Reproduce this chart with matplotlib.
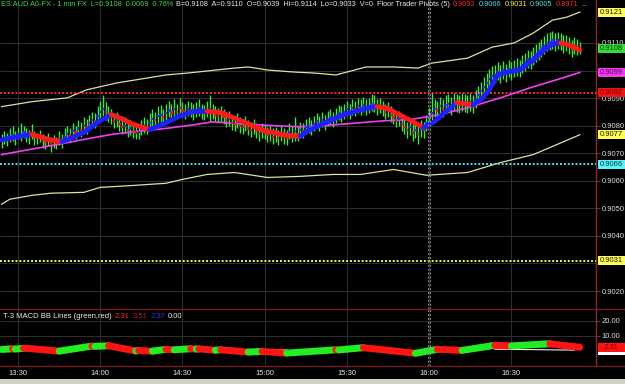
import numpy as np
import matplotlib
matplotlib.use("Agg")
import matplotlib.pyplot as plt
from matplotlib.collections import LineCollection
from matplotlib.patches import Rectangle
from matplotlib.lines import Line2D
from matplotlib.transforms import blended_transform_factory, ScaledTranslation

plt.rcParams['font.family'] = ['Liberation Sans', 'DejaVu Sans']

# ---------------- data ----------------
symbol_text = "ES:AUD A0-FX - 1 min FX  L=0.9108  0.0069  0.76%"
quote_text = "B=0.9108  A=0.9110  O=0.9039  Hi=0.9114  Lo=0.9033  V=0  Floor Trader Pivots (5)"
pivot_values = [0.9092, 0.9066, 0.9031, 0.9005, 0.8971]
pivot_colors = ['#ff2a2a', '#48e0f0', '#f6f24a', '#48e0f0', '#ff2a2a']

start_clock = "13:24"
time_labels = ["13:30", "14:00", "14:30", "15:00", "15:30", "16:00", "16:30"]
session_break = "16:00"

price_base = 0.9  # series below are in pips above 0.9000
bar_close = [74.5, 75.5, 75.0, 76.0, 76.5, 75.8, 77.0, 76.5, 77.5, 77.0,
             76.5, 77.2, 76.0, 75.5, 76.2, 74.8, 74.0, 75.0, 73.5, 74.2,
             73.8, 75.0, 74.5, 76.0, 77.0, 76.5, 78.0, 77.5, 79.0, 78.5,
             80.0, 79.5, 81.0, 82.0, 81.5, 83.5, 85.0, 86.0, 85.0, 84.0,
             83.0, 81.5, 82.0, 80.5, 79.5, 80.0, 78.5, 79.0, 78.0, 77.5,
             77.8, 79.0, 80.0, 79.5, 81.0, 82.5, 82.0, 83.5, 84.0, 83.0,
             84.5, 85.5, 84.8, 86.0, 85.0, 86.5, 85.5, 85.0, 86.0, 85.5,
             84.8, 85.5, 86.2, 85.0, 84.5, 85.8, 86.0, 85.0, 84.0, 83.5,
             84.2, 83.0, 82.0, 82.5, 81.0, 80.5, 81.5, 80.0, 79.5, 80.5,
             79.0, 78.5, 79.5, 78.0, 77.0, 78.0, 77.5, 76.5, 77.0, 76.0,
             76.5, 75.5, 77.0, 76.0, 75.5, 77.5, 76.5, 78.0, 77.0, 78.5,
             78.0, 79.5, 80.0, 79.0, 80.5, 81.5, 80.5, 82.0, 81.0, 82.5,
             83.0, 82.0, 83.5, 84.5, 84.0, 85.0, 86.0, 85.0, 86.5, 86.0,
             87.0, 86.5, 87.5, 86.5, 87.0, 88.0, 87.5, 86.5, 87.0, 86.0,
             85.0, 85.5, 84.0, 83.0, 82.0, 82.5, 80.5, 79.5, 78.5, 79.5,
             77.5, 78.5, 77.0, 79.0, 78.5, 81.0, 83.0, 84.5, 86.0, 85.5,
             87.0, 86.0, 87.5, 88.0, 87.0, 88.5, 88.0, 87.5, 88.5, 88.0,
             87.5, 88.5, 87.5, 89.5, 91.0, 92.5, 94.0, 95.5, 97.0, 98.0,
             98.5, 99.5, 98.5, 100.0, 99.0, 100.5, 99.5, 100.5, 101.0, 100.5,
             102.0, 103.0, 104.0, 103.5, 105.0, 106.0, 107.0, 108.0, 109.0, 110.0,
             110.5, 111.0, 110.0, 111.0, 110.5, 109.5, 110.0, 109.0, 108.0, 109.0, 108.5, 108.0]
bar_high = [77, 78, 77.5, 79, 80, 78, 79.5, 81, 80, 79,
            78.5, 80.5, 78, 77.5, 78.5, 77, 76, 77.5, 76, 76.5,
            76, 78, 77, 79, 80, 79, 81, 80, 82, 81.5,
            83, 82.5, 84, 85, 84.5, 87, 89, 91, 88.5, 87,
            86, 84.5, 85, 83.5, 82.5, 83, 81.5, 82, 81, 80.5,
            80.5, 82, 83, 82.5, 84.5, 86, 85, 87, 87.5, 86,
            88, 89, 88, 89.5, 88, 90, 88.5, 88, 89, 88.5,
            88, 88.5, 89.5, 88, 87.5, 89, 91, 88, 87, 86.5,
            87, 86, 85, 85.5, 84, 83.5, 84.5, 83, 82.5, 83.5,
            82, 81.5, 82.5, 81, 80, 81, 80.5, 79.5, 80, 79,
            79.5, 78.5, 80, 79, 78.5, 81, 80, 83, 80, 81.5,
            81, 82.5, 83, 82, 83.5, 84.5, 83.5, 85, 84, 85.5,
            86, 85, 86.5, 87.5, 87, 88, 89, 88, 89.5, 89,
            90, 89.5, 90.5, 89.5, 90, 91.5, 91, 89.5, 90, 89,
            88, 88.5, 87, 86, 85, 85.5, 83.5, 82.5, 81.5, 82.5,
            80.5, 81.5, 80, 82, 81.5, 84, 86.5, 92, 89.5, 89,
            90.5, 89.5, 91, 91.5, 90.5, 92, 91.5, 91, 92, 91.5,
            91, 92, 91, 93, 94.5, 96, 97.5, 99, 100.5, 101.5,
            102, 103, 102, 103.5, 102.5, 104, 103, 104, 104.5, 104,
            105.5, 106.5, 107.5, 107, 108.5, 109.5, 110.5, 111.5, 112.5, 113.5,
            114, 114.5, 113.5, 114, 113.5, 113, 113, 112, 111, 112, 111.5, 110.5]
bar_low = [72, 73.5, 72.5, 74, 74.5, 73, 75, 74.5, 75.5, 74,
           73.5, 75, 73, 73.5, 74, 72, 71.5, 72.5, 70.5, 72,
           71.5, 73, 72, 74, 74.5, 74, 75.5, 75, 76.5, 76,
           77.5, 77, 78.5, 79.5, 79, 81, 82, 83.5, 82, 81.5,
           80.5, 79, 79.5, 78, 77, 77.5, 76, 76.5, 75.5, 75,
           75, 76.5, 77.5, 77, 78.5, 80, 79.5, 81, 81.5, 80.5,
           82, 83, 82, 83.5, 82.5, 84, 83, 82.5, 83.5, 83,
           82, 83, 83.5, 82.5, 82, 83, 81.5, 82.5, 81.5, 81,
           81.5, 80.5, 79.5, 80, 78.5, 78, 79, 77.5, 77, 78,
           76.5, 76, 77, 75.5, 74.5, 75.5, 75, 74, 74.5, 73.5,
           74, 73, 74.5, 73.5, 73, 75, 74, 74.5, 74.5, 76,
           75.5, 77, 77.5, 76.5, 78, 79, 78, 79.5, 78.5, 80,
           80.5, 79.5, 81, 82, 81.5, 82.5, 83.5, 82.5, 84, 83.5,
           84.5, 84, 85, 84, 84.5, 85.5, 85, 84, 84.5, 83.5,
           82.5, 83, 81.5, 80.5, 79.5, 80, 78, 77, 75.5, 76.5,
           74.5, 75.5, 73.5, 76, 75.5, 78, 80, 81.5, 83, 82.5,
           84, 83, 84.5, 85, 84, 85.5, 85, 84.5, 85.5, 85,
           84.5, 85.5, 84.5, 86.5, 88, 89.5, 91, 92.5, 94, 95,
           95.5, 96.5, 95.5, 97, 96, 97.5, 96.5, 97.5, 98, 97.5,
           99, 100, 101, 100.5, 102, 103, 104, 105, 106, 107,
           107.5, 108, 107, 108, 107.5, 106.5, 107, 106, 105, 106, 105.5, 106]

t3_idx = [0, 6, 11, 14, 18, 22, 24, 30, 36, 40, 44, 48, 54, 60, 65, 70, 75, 80, 82, 88,
          95, 102, 109, 111, 118, 125, 132, 137, 141, 146, 150, 154, 158, 162, 166, 169,
          172, 175, 178, 181, 185, 189, 194, 198, 201, 204, 206, 209, 211]
t3_val = [74.9, 76.0, 76.8, 76.0, 74.8, 74.2, 74.9, 77.5, 81.8, 84.0, 82.5, 80.5, 78.6, 81.0,
          83.5, 85.1, 85.2, 84.7, 84.0, 81.5, 78.5, 76.8, 76.0, 77.8, 81.0, 84.0, 86.0, 86.9,
          86.2, 83.5, 81.5, 79.3, 81.5, 85.0, 88.3, 88.0, 87.6, 89.5, 93.0, 98.4, 99.5, 100.2,
          103.8, 107.5, 109.6, 110.0, 109.6, 108.5, 107.4]

ma_idx = [0, 10, 20, 30, 40, 50, 60, 70, 77, 85, 95, 109, 120, 130, 140, 149, 160, 170, 182, 194, 203, 211]
ma_val = [69.5, 71.3, 73.1, 75.0, 76.8, 78.0, 79.0, 80.3, 81.4, 80.8, 80.2, 79.6, 80.2, 81.0,
          81.8, 82.2, 84.0, 86.5, 90.1, 94.1, 96.8, 99.3]

bbu_idx = [0, 11, 24, 31, 42, 60, 68, 85, 90, 97, 106, 114, 122, 133, 143, 152, 157, 170,
           179, 187, 194, 201, 206, 211]
bbu_val = [86.9, 88.7, 90.1, 93.0, 95.5, 98.4, 99.1, 100.9, 101.3, 100.2, 99.5, 99.1, 98.4,
           101.3, 101.3, 100.9, 102.7, 104.5, 108.5, 110.0, 113.6, 118.3, 119.3, 121.2]
bbl_idx = [0, 3, 11, 18, 30, 36, 48, 60, 66, 75, 85, 97, 109, 121, 131, 143, 155, 170, 182, 194, 211]
bbl_val = [51.5, 53.3, 54.7, 55.5, 55.8, 57.6, 58.3, 59.1, 60.5, 62.3, 63.0, 61.2, 61.6, 62.3,
           62.3, 64.1, 62.0, 63.0, 66.6, 69.5, 76.7]

macd_idx = [0, 4, 5, 8, 11, 21, 33, 34, 39, 49, 50, 55, 60, 63, 69, 71, 72, 78, 80, 90, 95,
            104, 122, 123, 132, 151, 159, 168, 180, 186, 200, 211]
macd_val = [0.8, 1.3, 1.1, 1.6, 1.3, -0.3, 3.1, 2.9, 3.3, -0.2, 0.1, -0.3, 0.9, 0.6, 1.3, 1.1,
            1.2, 0.3, 0.6, -0.9, -0.5, -1.6, 0.6, 0.5, 2.0, -1.7, 0.9, 0.2, 3.6, 3.2, 4.6, 2.3]
band_idx = [93, 104, np.nan, 180, 209]
band_val = [0.9, 0.6, np.nan, 1.0, 0.4]
macd_title = "T-3 MACD BB Lines (green,red)"
macd_legend = ["2.31", "3.51", "2.37", "0.00"]
macd_legend_colors = ['#ff2a2a', '#c81818', '#3434ff', '#e8e8e8']
macd_ticks = [10, 20]
price_ticks = [0.9020, 0.9040, 0.9050, 0.9060, 0.9070, 0.9080, 0.9090, 0.9100, 0.9110]

# ---------------- helpers ----------------
def to_price(v):
    return price_base + np.asarray(v, dtype=float) / 1e4

def minute_of(label):
    h, m = map(int, label.split(':'))
    h0, m0 = map(int, start_clock.split(':'))
    return (h * 60 + m) - (h0 * 60 + m0)

W, H = 625, 384
fig = plt.figure(figsize=(W / 100, H / 100), dpi=100, facecolor='black')
ax = fig.add_axes([0, 1 - 309 / H, 596 / W, 309 / H])
ax2 = fig.add_axes([0, 1 - 366 / H, 596 / W, 57 / H])

xlim = (-0.58, 216.9)
tick_pos = [minute_of(t) for t in time_labels]
for a in (ax, ax2):
    a.set_facecolor('black')
    for s in ('top', 'left', 'bottom'):
        a.spines[s].set_visible(False)
    a.spines['right'].set_color('#8a2b2b')
    a.spines['right'].set_linewidth(1.0)
    a.yaxis.tick_right()
    a.tick_params(axis='y', colors='#8a2b2b', labelcolor='#dcdcdc', length=3,
                  width=0.8, labelsize=5.5, pad=1)
    a.set_xlim(*xlim)
    a.set_xticks(tick_pos)
    a.grid(True, color='#2f2f2f', lw=0.7)
    a.set_axisbelow(True)

ax.tick_params(axis='x', length=0, labelbottom=False)
ax2.set_xticklabels(time_labels)
ax2.tick_params(axis='x', length=0, labelcolor='#e4e4e4', labelsize=5.5, pad=3)

# ---- main panel ----
ax.set_ylim(0.901347, 0.912560)
ax.set_yticks(price_ticks)
ax.set_yticklabels([f"{v:.4f}" for v in price_ticks])
# grid line hidden behind the S1 pivot (no label in the reference)
ax.axhline(0.9030, color='#2f2f2f', lw=0.7, zorder=0.5)

xb = np.arange(len(bar_close))
close = to_price(bar_close)
ax.vlines(xb, to_price(bar_low), to_price(bar_high), colors='#3ee83e', lw=1.0, zorder=3)

# bands & moving average
ax.plot(bbu_idx, to_price(bbu_val), color='#e6dea0', lw=0.9, zorder=2)
ax.plot(bbl_idx, to_price(bbl_val), color='#e6dea0', lw=0.9, zorder=2)
ax.plot(ma_idx, to_price(ma_val), color='#f040f0', lw=1.2, zorder=4)

# pivots
for v, c in zip(pivot_values, pivot_colors):
    ax.axhline(v, color=c, lw=1.4, ls=(0, (1, 1)), zorder=2)

# close dots coloured by direction
dcol = ['#2a2aff' if i > 0 and bar_close[i] >= bar_close[i - 1] else '#e01818'
        for i in range(len(bar_close))]
ax.scatter(xb, close, c=dcol, s=2.5, marker='s', linewidths=0, zorder=4)

# T3 line
pts = np.column_stack([t3_idx, to_price(t3_val)])
segs = [pts[k:k + 2] for k in range(len(pts) - 1)]
cols = ['#1e1eff' if pts[k + 1, 1] >= pts[k, 1] else '#ff1a1a' for k in range(len(pts) - 1)]
ax.add_collection(LineCollection(segs, colors=cols, linewidths=3.4, capstyle='round', zorder=5))

# ---- MACD panel ----
ax2.set_ylim(-10.2, 27.8)
ax2.set_yticks(macd_ticks)
ax2.set_yticklabels([f"{v:.2f}" for v in macd_ticks])
ax2.plot(band_idx, band_val, color='#f0f0f0', lw=0.8, zorder=2)
mp = np.column_stack([macd_idx, macd_val])
msegs = [mp[k:k + 2] for k in range(len(mp) - 1)]
mcols = ['#22ee22' if mp[k + 1, 1] >= mp[k, 1] else '#ff1414' for k in range(len(mp) - 1)]
ax2.add_collection(LineCollection(msegs, colors=mcols, linewidths=5.0, capstyle='round', zorder=3))

# session break dashed double line
xs = minute_of(session_break)
for a in (ax, ax2):
    for off in (-1.2, 1.2):
        tr = a.get_xaxis_transform() + ScaledTranslation(off / 100, 0, fig.dpi_scale_trans)
        a.plot([xs, xs], [0, 1], transform=tr, color='#8c8c8c', lw=0.7, ls=(0, (2, 2)), zorder=6)

# ---- right-axis value boxes ----
def value_box(a, val, face, tcolor, label, hpx=9):
    trans = blended_transform_factory(fig.transFigure, a.transData)
    y0, y1 = a.get_ylim()
    h = hpx * (y1 - y0) / (a.get_position().height * H)
    fig.add_artist(Rectangle((598 / W, val - h / 2), (W - 598) / W, h, transform=trans,
                             facecolor=face, edgecolor='none', zorder=5))
    if label:
        fig.text(611.5 / W, val, label, transform=trans, color=tcolor, fontsize=5.5,
                 ha='center', va='center', zorder=6)

boxes = [
    (price_base + bbu_val[-1] / 1e4, '#ffff58', '#1a1a00'),
    (price_base + bar_close[-1] / 1e4, '#36dd36', '#0b3b0b'),
    (price_base + ma_val[-1] / 1e4, '#f03cf0', '#5a005a'),
    (pivot_values[0], '#ee1414', '#7a0000'),
    (price_base + bbl_val[-1] / 1e4, '#ffff58', '#1a1a00'),
    (pivot_values[1], '#5cf4ff', '#003b40'),
    (pivot_values[2], '#ffff58', '#1a1a00'),
]
for v, f, t in boxes:
    value_box(ax, v, f, t, f"{v:.4f}")
value_box(ax2, float(macd_legend[3]), '#ffffff', '#ffffff', None)
value_box(ax2, macd_val[-1], '#ff1414', '#8a0000', macd_legend[0])

# ---- separators, bottom strip ----
for ypx in (309, 366):
    fig.add_artist(Line2D([0, 1], [1 - ypx / H] * 2, transform=fig.transFigure,
                          color='#6e1c1c', lw=1.0, zorder=4))
fig.add_artist(Rectangle((0, 0), 1, 5 / H, transform=fig.transFigure,
                         facecolor='#d4d0c8', edgecolor='none', zorder=4))

# ---- rich text headers ----
renderer = fig.canvas.get_renderer()

def rich(x_px, base_px, pieces, size=5.3, gap=3.0):
    x = x_px
    for s, c in pieces:
        t = fig.text(x / W, 1 - base_px / H, s, color=c, fontsize=size,
                     ha='left', va='baseline', zorder=7)
        x += t.get_window_extent(renderer=renderer).width + gap

head = [(symbol_text, '#3ed83e'), (quote_text, '#e8e8e8')]
head += [(f"{v:.4f}", c) for v, c in zip(pivot_values, pivot_colors)]
head += [("...", '#e8e8e8')]
rich(1, 5.5, head)
rich(3, 317.5, [(macd_title, '#e8e8e8')] + list(zip(macd_legend, macd_legend_colors)), size=5.5)

fig.savefig("out.png", dpi=100, facecolor='black')
